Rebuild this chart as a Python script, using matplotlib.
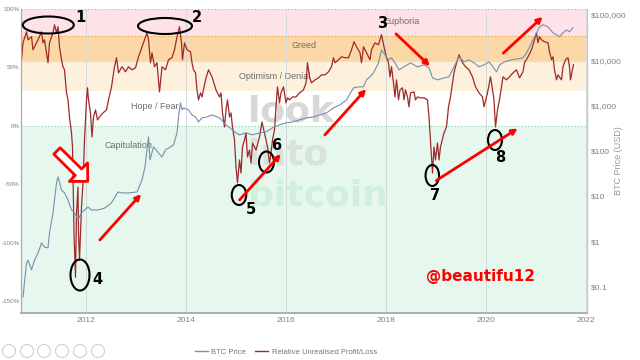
"""RUPL vs BTC price chart with hand-drawn markup, redrawn at 640x360."""

import matplotlib

matplotlib.use("Agg")
import matplotlib.pyplot as plt
from matplotlib import font_manager
from matplotlib.lines import Line2D
from matplotlib.patches import Ellipse, FancyArrowPatch

W, H = 640, 360

# ---- data -------------------------------------------------------------
price_year = [
    2010.74, 2010.81, 2010.84, 2010.91, 2010.97, 2011.04, 2011.11, 2011.17, 2011.24, 2011.27,
    2011.34, 2011.37, 2011.41, 2011.44, 2011.51, 2011.57, 2011.64, 2011.71, 2011.77, 2011.84,
    2011.91, 2011.97, 2012.04, 2012.11, 2012.24, 2012.37, 2012.51, 2012.64, 2012.72, 2012.85,
    2013.02, 2013.12, 2013.18, 2013.25, 2013.28, 2013.35, 2013.45, 2013.52, 2013.59, 2013.69,
    2013.75, 2013.82, 2013.85, 2013.89, 2013.92, 2013.95, 2014.05, 2014.12, 2014.19, 2014.25,
    2014.32, 2014.42, 2014.52, 2014.67, 2014.80, 2014.93, 2015.00, 2015.07, 2015.20, 2015.33,
    2015.47, 2015.60, 2015.73, 2015.87, 2016.00, 2016.13, 2016.27, 2016.41, 2016.55, 2016.68,
    2016.81, 2016.95, 2017.08, 2017.21, 2017.35, 2017.45, 2017.55, 2017.61, 2017.68, 2017.75,
    2017.85, 2017.91, 2017.98, 2018.05, 2018.11, 2018.18, 2018.26, 2018.36, 2018.49, 2018.63,
    2018.76, 2018.86, 2018.93, 2019.03, 2019.16, 2019.26, 2019.36, 2019.46, 2019.56, 2019.66,
    2019.76, 2019.86, 2019.96, 2020.06, 2020.14, 2020.21, 2020.27, 2020.37, 2020.51, 2020.64,
    2020.74, 2020.81, 2020.87, 2020.94, 2021.01, 2021.07, 2021.14, 2021.24, 2021.34, 2021.41,
    2021.47, 2021.54, 2021.61, 2021.67, 2021.74,
]
price_usd = [
    0.06, 0.34, 0.39, 0.24, 0.39, 0.56, 0.94, 0.76, 0.73, 1.56,
    4.3, 8.3, 19.8, 26.8, 13.8, 11.9, 8.3, 5.0, 4.3, 3.0,
    4.3, 5.0, 5.8, 5.0, 5.0, 5.5, 7.2, 12.5, 11.9, 11.9,
    12.5, 23, 45, 205, 64, 123, 91, 74, 106, 123,
    136, 251, 566, 1150, 808, 894, 808, 627, 566, 439,
    538, 566, 627, 538, 377, 292, 251, 227, 251, 227,
    251, 264, 324, 377, 417, 439, 486, 538, 566, 627,
    694, 894, 1042, 1343, 2472, 2600, 2600, 3715, 4325, 5300,
    8810, 17000, 13200, 10260, 11360, 8810, 6170, 7190, 8810, 7190,
    7960, 6830, 4110, 3715, 4110, 4325, 7190, 11950, 9270, 10260,
    8810, 7190, 7960, 9270, 7190, 5570, 7960, 9270, 10260, 10800,
    11360, 14650, 19870, 28370, 40460, 54900, 60800, 54900, 40460, 36560,
    33040, 40460, 47100, 42560, 52150,
]

rupl_year = [
    2010.71, 2010.74, 2010.81, 2010.84, 2010.91, 2010.94, 2011.01, 2011.04, 2011.11, 2011.14,
    2011.17, 2011.24, 2011.27, 2011.34, 2011.37, 2011.41, 2011.44, 2011.47, 2011.51, 2011.54,
    2011.57, 2011.61, 2011.64, 2011.67, 2011.71, 2011.73, 2011.76, 2011.79, 2011.81, 2011.84,
    2011.85, 2011.87, 2011.91, 2011.94, 2011.97, 2012.01, 2012.03, 2012.05, 2012.09, 2012.12,
    2012.15, 2012.19, 2012.23, 2012.27, 2012.34, 2012.41, 2012.45, 2012.51, 2012.57, 2012.61,
    2012.65, 2012.72, 2012.79, 2012.85, 2012.92, 2012.99, 2013.05, 2013.12, 2013.19, 2013.22,
    2013.25, 2013.29, 2013.32, 2013.37, 2013.42, 2013.47, 2013.52, 2013.59, 2013.65, 2013.72,
    2013.77, 2013.82, 2013.87, 2013.91, 2013.93, 2013.97, 2014.02, 2014.09, 2014.12, 2014.15,
    2014.19, 2014.22, 2014.25, 2014.29, 2014.32, 2014.39, 2014.45, 2014.52, 2014.60, 2014.67,
    2014.70, 2014.73, 2014.77, 2014.80, 2014.83, 2014.87, 2014.90, 2014.93, 2014.97, 2015.00,
    2015.03, 2015.07, 2015.10, 2015.13, 2015.17, 2015.20, 2015.23, 2015.27, 2015.30, 2015.33,
    2015.40, 2015.47, 2015.52, 2015.57, 2015.60, 2015.63, 2015.67, 2015.70, 2015.73, 2015.77,
    2015.80, 2015.83, 2015.87, 2015.90, 2015.95, 2016.00, 2016.03, 2016.07, 2016.13, 2016.20,
    2016.27, 2016.35, 2016.40, 2016.43, 2016.47, 2016.51, 2016.58, 2016.65, 2016.71, 2016.78,
    2016.85, 2016.91, 2016.95, 2016.98, 2017.05, 2017.11, 2017.18, 2017.25, 2017.31, 2017.36,
    2017.41, 2017.48, 2017.51, 2017.55, 2017.61, 2017.68, 2017.71, 2017.78, 2017.85, 2017.91,
    2017.96, 2018.01, 2018.05, 2018.08, 2018.11, 2018.15, 2018.18, 2018.21, 2018.25, 2018.28,
    2018.33, 2018.36, 2018.39, 2018.43, 2018.46, 2018.49, 2018.56, 2018.59, 2018.63, 2018.69,
    2018.76, 2018.83, 2018.86, 2018.88, 2018.91, 2018.93, 2018.96, 2018.99, 2019.03, 2019.06,
    2019.09, 2019.16, 2019.21, 2019.25, 2019.29, 2019.33, 2019.36, 2019.39, 2019.46, 2019.53,
    2019.59, 2019.66, 2019.73, 2019.79, 2019.86, 2019.93, 2019.96, 2020.03, 2020.09, 2020.11,
    2020.16, 2020.19, 2020.23, 2020.27, 2020.31, 2020.34, 2020.41, 2020.47, 2020.54, 2020.61,
    2020.67, 2020.74, 2020.77, 2020.84, 2020.91, 2020.97, 2021.01, 2021.04, 2021.07, 2021.11,
    2021.17, 2021.24, 2021.27, 2021.31, 2021.34, 2021.37, 2021.41, 2021.44, 2021.51, 2021.54,
    2021.59, 2021.64, 2021.67, 2021.69, 2021.72, 2021.75,
]
rupl_value = [
    0.566, 0.711, 0.805, 0.737, 0.763, 0.651, 0.711, 0.737, 0.805, 0.711,
    0.737, 0.540, 0.711, 0.797, 0.865, 0.797, 0.848, 0.677, 0.566, 0.506,
    0.480, 0.283, 0.223, 0.077, -0.060, -0.180, -0.917, -1.294, -0.746, -0.523,
    -0.917, -1.148, -0.694, -0.488, -0.120, 0.223, 0.326, 0.223, 0.111, -0.094,
    0.077, 0.137, 0.051, 0.077, 0.111, 0.137, 0.223, 0.334, 0.506, 0.583,
    0.454, 0.506, 0.463, 0.506, 0.480, 0.497, 0.591, 0.677, 0.763, 0.797,
    0.737, 0.540, 0.626, 0.506, 0.540, 0.291, 0.506, 0.480, 0.566, 0.583,
    0.651, 0.763, 0.848, 0.711, 0.566, 0.711, 0.651, 0.634, 0.540, 0.480,
    0.454, 0.308, 0.223, 0.283, 0.248, 0.394, 0.480, 0.420, 0.308, 0.248,
    0.283, 0.111, -0.009, 0.137, 0.223, 0.077, 0.111, -0.009, -0.120, -0.351,
    -0.488, -0.291, -0.403, -0.180, -0.120, -0.060, -0.266, -0.206, -0.317, -0.146,
    -0.206, -0.094, 0.034, -0.060, -0.120, -0.180, -0.317, -0.231, -0.120, -0.034,
    0.163, 0.334, 0.197, 0.283, 0.334, 0.197, 0.240, 0.223, 0.248, 0.248,
    0.283, 0.308, 0.368, 0.540, 0.420, 0.368, 0.394, 0.411, 0.437, 0.437,
    0.463, 0.506, 0.583, 0.540, 0.566, 0.591, 0.583, 0.583, 0.651, 0.720,
    0.677, 0.626, 0.540, 0.677, 0.626, 0.566, 0.651, 0.711, 0.694, 0.780,
    0.677, 0.583, 0.540, 0.420, 0.506, 0.368, 0.248, 0.394, 0.223, 0.308,
    0.326, 0.223, 0.308, 0.248, 0.163, 0.283, 0.291, 0.223, 0.248, 0.240,
    0.240, 0.223, 0.077, -0.060, -0.266, -0.403, -0.180, -0.291, -0.146, -0.291,
    -0.180, -0.060, -0.009, 0.163, 0.248, 0.368, 0.454, 0.506, 0.608, 0.540,
    0.506, 0.480, 0.420, 0.334, 0.283, 0.248, 0.163, 0.283, 0.420, 0.368,
    0.223, -0.009, 0.137, 0.223, 0.334, 0.420, 0.394, 0.420, 0.454, 0.480,
    0.411, 0.463, 0.540, 0.591, 0.651, 0.737, 0.797, 0.711, 0.763, 0.737,
    0.720, 0.711, 0.634, 0.566, 0.591, 0.480, 0.394, 0.437, 0.394, 0.506,
    0.566, 0.583, 0.506, 0.394, 0.463, 0.523,
]

band_bounds = [-1.6, 0.0, 0.30, 0.55, 0.77, 1.0]
band_colors = ["#e6f7ee", "#ffffff", "#fdf0dc", "#fbd8a6", "#fde3e7"]
band_names = ["Capitulation", "Hope / Fear", "Optimism / Denial", "Greed", "Euphoria"]
band_label_year = [2012.84, 2013.38, 2015.78, 2016.36, 2018.30]
band_label_value = [-0.17, 0.163, 0.42, 0.686, 0.891]

rupl_ticks = [-1.5, -1.0, -0.5, 0.0, 0.5, 1.0]
price_ticks = [0.1, 1, 10, 100, 1000, 10000, 100000]
price_tick_labels = ["$0.1", "$1", "$10", "$100", "$1,000", "$10,000", "$100,000"]
year_ticks = [2012, 2014, 2016, 2018, 2020, 2022]

BLUE = "#7590ad"
RED = "#9e2a2b"
GRAY = "#808080"

installed = {f.name for f in font_manager.fontManager.ttflist}
FONT = "Liberation Sans Narrow" if "Liberation Sans Narrow" in installed else "Liberation Sans"
plt.rcParams["font.family"] = [FONT, "DejaVu Sans"]


def px(x, y):
    """screenshot pixel -> figure fraction"""
    return x / W, 1 - y / H


fig = plt.figure(figsize=(W / 100, H / 100), dpi=100)
ax = fig.add_axes([21 / W, 1 - 313 / H, (587 - 21) / W, (313 - 9) / H])

for lo, hi, c in zip(band_bounds[:-1], band_bounds[1:], band_colors):
    ax.axhspan(lo, hi, color=c, lw=0, zorder=0)
ax.axhline(1.0, color="#f2a3ad", ls=(0, (1, 2)), lw=0.8, zorder=0.5)
ax.axhline(0.77, color="#f0a050", ls=(0, (1, 2)), lw=0.8, zorder=0.5)
ax.axhline(0.0, color="#94d3ae", ls=(0, (1, 2)), lw=0.8, zorder=0.5)

for name, x, y in zip(band_names, band_label_year, band_label_value):
    ax.text(x, y, name, ha="center", va="center", fontsize=6.5, color="#6e6e6e", zorder=1)

# watermark
for word, (x, y), c in [("look", (248, 121), "#d8d8d8"), ("into", (248, 165), "#d9e2dd"),
                        ("bitcoin", (248, 206), "#d1f0db")]:
    ax.text(*px(x, y), word, transform=fig.transFigure, fontsize=26, fontweight="bold",
            family="DejaVu Sans", color=c, ha="left", va="baseline", zorder=1)

ax.plot(rupl_year, rupl_value, color=RED, lw=0.9, zorder=3)

ax.set_xlim(2010.7, 2022.02)
ax.set_ylim(-1.6, 1.0)
ax.set_xticks(year_ticks)
ax.set_xticklabels([str(y) for y in year_ticks])
ax.set_yticks(rupl_ticks)
ax.set_yticklabels([f"{int(round(v * 100))}%" for v in rupl_ticks])
ax.tick_params(axis="y", length=0, pad=1, labelsize=4.5, labelcolor=GRAY)
ax.tick_params(axis="x", length=0, pad=3, labelsize=6, labelcolor=GRAY)
ax.grid(axis="x", color="#d4dada", lw=0.7)
ax.set_axisbelow(False)
for g in ax.get_xgridlines():
    g.set_zorder(0.6)

ax2 = ax.twinx()
ax2.plot(price_year, price_usd, color=BLUE, lw=0.8)
ax2.set_yscale("log")
ax2.set_ylim(0.0267, 135900)
ax2.set_yticks(price_ticks)
ax2.set_yticklabels(price_tick_labels)
ax2.minorticks_off()
ax2.tick_params(axis="y", length=0, pad=3, labelsize=6, labelcolor=GRAY)
ax2.set_ylabel("BTC Price (USD)", fontsize=6.5, color="#999999")
ax2.yaxis.set_label_coords((613.5 - 21) / 566, 0.5)

for a in (ax, ax2):
    a.spines["top"].set_visible(False)
    a.spines["left"].set_color("#a6acac")
    a.spines["bottom"].set_color("#aab0b0")
    a.spines["bottom"].set_linewidth(1.2)
    a.spines["right"].set_color("#c4c8c8")

fig.legend(
    handles=[Line2D([], [], color=BLUE, lw=1), Line2D([], [], color=RED, lw=1)],
    labels=["BTC Price", "Relative Unrealised Profit/Loss"],
    loc="center", bbox_to_anchor=px(286, 352), ncol=2, frameon=False,
    fontsize=5.5, handlelength=1.7, columnspacing=1.2, handletextpad=0.5,
    labelcolor="#777777",
)

# viewer toolbar circles, bottom left
for cx in [9, 27, 44, 62, 80, 98]:
    fig.add_artist(Ellipse(px(cx, 351), 13 / W, 13 / H, transform=fig.transFigure,
                           fill=False, ec="#d0d0d0", lw=0.8))

# ---- markup drawn over the screenshot -----------------------------------
ellipses = [(48.3, 25, 51, 17), (165, 26, 54, 16), (80, 275, 19, 31), (239, 195, 14.5, 20),
            (266.5, 162, 15, 21), (432.3, 175.5, 13.5, 21), (495, 140, 14, 20)]
for cx, cy, w, h in ellipses:
    fig.add_artist(Ellipse(px(cx, cy), w / W, h / H, transform=fig.transFigure,
                           fill=False, ec="black", lw=1.5))

numbers = [("1", 80, 18), ("2", 197, 17), ("3", 382, 24), ("4", 97, 280),
           ("5", 251, 210), ("6", 276, 146), ("7", 435.5, 196), ("8", 500, 157)]
for s, x, y in numbers:
    fig.text(*px(x, y), s, ha="center", va="center", fontsize=10.5, fontweight="bold",
             family="DejaVu Sans", color="black")

red_arrows = [((98, 242), (143, 192)), ((237.7, 202), (282.7, 152)), ((323, 137), (368, 87)),
              ((394, 32), (432, 68)), ((434, 182), (520, 127)), ((501.3, 55), (544.7, 15))]
for a, b in red_arrows:
    fig.add_artist(FancyArrowPatch(px(*a), px(*b), transform=fig.transFigure,
                                   arrowstyle="-|>", mutation_scale=8, color="red", lw=2))

fig.add_artist(FancyArrowPatch(
    px(55, 149), px(89.7, 183.3), transform=fig.transFigure,
    arrowstyle="simple,head_length=0.94,head_width=1.87,tail_width=0.65",
    mutation_scale=10, fc="white", ec="red", lw=2))

fig.text(*px(480.7, 277), "@beautifu12", ha="center", va="center", fontsize=11,
         fontweight="bold", family="DejaVu Sans", color="#ff0000")

fig.savefig("out.png", dpi=100)
